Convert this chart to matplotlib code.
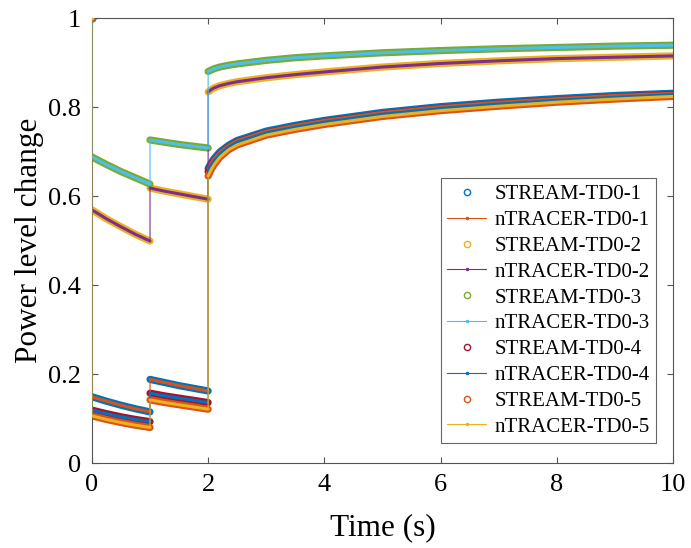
import numpy as np
import matplotlib
matplotlib.use('Agg')
import matplotlib.pyplot as plt

plt.rcParams['font.family'] = ['Liberation Serif', 'DejaVu Serif']

# time points (repeated times mark the step changes at 0, 1 and 2 s)
time_s = [0.0, 0.0, 0.25, 0.5, 0.75, 1.0,
          1.0, 1.25, 1.5, 1.75, 2.0,
          2.0, 2.05, 2.1, 2.2, 2.35, 2.5, 3.0, 3.5, 4.0, 5.0, 6.0, 7.0, 8.0, 9.0, 10.0]

td0_1 = [1.0, 0.149, 0.139, 0.130, 0.122, 0.115,
         0.188, 0.181, 0.174, 0.168, 0.162,
         0.662, 0.674, 0.684, 0.699, 0.714, 0.725, 0.746, 0.759, 0.770, 0.788, 0.801, 0.811, 0.819, 0.826, 0.831]
td0_2 = [1.0, 0.569, 0.549, 0.531, 0.514, 0.499,
         0.618, 0.611, 0.605, 0.599, 0.593,
         0.834, 0.839, 0.843, 0.848, 0.853, 0.857, 0.866, 0.873, 0.879, 0.890, 0.898, 0.904, 0.909, 0.912, 0.915]
td0_3 = [1.0, 0.688, 0.671, 0.655, 0.641, 0.627,
         0.726, 0.721, 0.716, 0.712, 0.708,
         0.880, 0.883, 0.886, 0.890, 0.894, 0.897, 0.905, 0.911, 0.915, 0.922, 0.927, 0.931, 0.934, 0.937, 0.939]
td0_4 = [1.0, 0.119, 0.111, 0.104, 0.098, 0.093,
         0.157, 0.151, 0.146, 0.141, 0.136,
         0.655, 0.668, 0.678, 0.694, 0.710, 0.721, 0.742, 0.755, 0.766, 0.784, 0.797, 0.807, 0.815, 0.822, 0.828]
td0_5 = [1.0, 0.106, 0.098, 0.091, 0.085, 0.080,
         0.142, 0.136, 0.131, 0.126, 0.121,
         0.645, 0.659, 0.670, 0.687, 0.704, 0.715, 0.737, 0.750, 0.761, 0.779, 0.792, 0.802, 0.811, 0.818, 0.824]

cases = ['TD0-1', 'TD0-2', 'TD0-3', 'TD0-4', 'TD0-5']
case_values = [td0_1, td0_2, td0_3, td0_4, td0_5]

# matlab default colour order
stream_colors = ['#0072BD', '#EDB120', '#77AC30', '#A2142F', '#D95319']
ntracer_colors = ['#D95319', '#7E2F8E', '#4DBEEE', '#0072BD', '#EDB120']

t = np.array(time_s)
breaks = np.where(np.diff(t) == 0)[0] + 1
segments = np.split(np.arange(len(t)), breaks)

fig = plt.figure(figsize=(6.91, 5.48), dpi=100)
ax = fig.add_axes([0.133, 0.155, 0.841, 0.812])

for name, vals, sc, nc in zip(cases, case_values, stream_colors, ntracer_colors):
    v = np.array(vals)
    # STREAM: dense circles look like a thick band
    for idx in segments:
        if len(idx) > 1:
            ax.plot(t[idx], v[idx], color=sc, lw=5.2, solid_capstyle='round', zorder=2)
    ax.plot(t, v, 'o', color=sc, mfc='none', ms=4.5, mew=1.0, markevery=[0],
            label='STREAM-' + name, zorder=2)
    # nTRACER: line with dots
    ax.plot(t, v, '-', marker='.', ms=3, color=nc, lw=0.8, markevery=[0],
            label='nTRACER-' + name, zorder=3)
    for idx in segments:
        if len(idx) > 1:
            ax.plot(t[idx], v[idx], color=nc, lw=2.2, solid_capstyle='round', zorder=3)

ax.set_xlim(0, 10)
ax.set_ylim(0, 1)
ax.set_xticks([0, 2, 4, 6, 8, 10])
ax.set_yticks([0, 0.2, 0.4, 0.6, 0.8, 1])
ax.set_yticklabels(['0', '0.2', '0.4', '0.6', '0.8', '1'])
ax.tick_params(direction='in', top=True, right=True, length=4, width=0.8,
               colors='#555555', labelcolor='black', labelsize=19, pad=8)
for sp in ax.spines.values():
    sp.set_color('#555555')
    sp.set_linewidth(0.8)

ax.set_xlabel('Time (s)', fontsize=22.5, labelpad=12)
ax.set_ylabel('Power level change', fontsize=22.5, labelpad=3)

leg = ax.legend(loc='lower right', bbox_to_anchor=(0.971, 0.045), fontsize=15,
                frameon=True, fancybox=False, edgecolor='#666666', framealpha=1,
                numpoints=1, handlelength=1.9, handletextpad=0.4, labelspacing=0.3,
                borderpad=0.3, borderaxespad=0.0)
leg.get_frame().set_linewidth(0.8)

fig.savefig('out.png', dpi=100)
